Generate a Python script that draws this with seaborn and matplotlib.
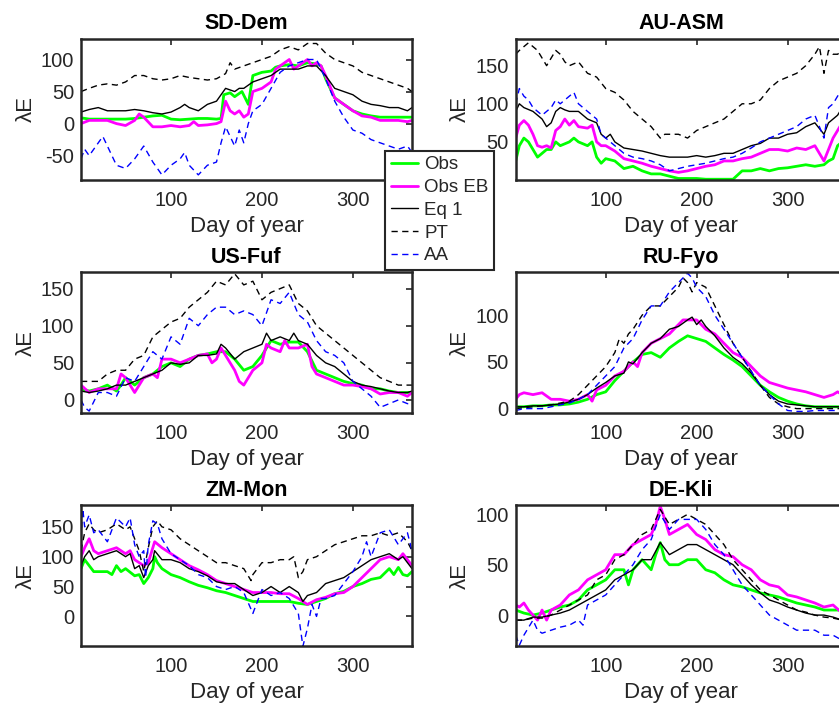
import matplotlib
matplotlib.use("Agg")
import matplotlib.pyplot as plt
import seaborn as sns
import pandas as pd

# ---------------- data: (day of year, lambda E) ----------------
titles = ["SD-Dem", "AU-ASM", "US-Fuf", "RU-Fyo", "ZM-Mon", "DE-Kli"]
series_names = ["Obs", "Obs EB", "Eq 1", "PT", "AA"]

SD_OBS = [(1,9),(10,7),(20,7),(30,7),(40,7),(50,7),(60,8),(70,10),(80,12),(90,13),(100,7),(110,6),(120,7),(130,8),(140,8),(150,7),(155,8),(158,45),(165,48),(170,42),(178,50),(185,30),(190,75),(200,80),(210,82),(215,88),(220,90),(230,92),(240,90),(250,95),(260,93),(265,90),(270,70),(280,40),(290,30),(300,20),(310,15),(320,12),(330,10),(340,10),(350,10),(360,10),(365,10)]
SD_OBSEB = [(1,0),(10,5),(20,5),(30,5),(40,0),(50,-3),(60,5),(65,15),(70,10),(80,-5),(90,-5),(100,-3),(110,-5),(120,-3),(125,3),(130,-3),(140,-2),(150,0),(155,3),(160,35),(165,20),(170,15),(175,20),(180,10),(185,15),(190,50),(200,55),(205,60),(210,65),(215,85),(220,90),(230,100),(235,85),(240,90),(250,100),(255,90),(260,95),(265,90),(270,75),(280,40),(290,30),(300,20),(310,12),(320,10),(330,5),(340,5),(350,5),(360,3),(365,5)]
SD_EQ1 = [(1,18),(10,22),(20,25),(30,20),(40,20),(50,20),(60,22),(70,20),(80,17),(90,15),(100,18),(110,25),(115,30),(120,25),(130,20),(140,30),(150,35),(160,55),(170,50),(175,55),(180,55),(190,65),(200,70),(210,75),(220,85),(230,85),(240,85),(250,90),(260,90),(270,75),(280,55),(290,50),(300,45),(310,35),(320,30),(330,28),(340,25),(350,25),(360,20),(365,25)]
SD_PT = [(1,50),(10,55),(20,60),(30,62),(40,60),(50,65),(60,75),(70,75),(80,70),(90,68),(100,70),(110,75),(120,72),(130,70),(140,68),(150,70),(160,78),(165,95),(170,85),(180,90),(190,95),(200,100),(210,105),(220,115),(230,120),(240,115),(250,125),(260,125),(270,110),(280,100),(290,95),(300,90),(310,80),(320,75),(330,70),(340,65),(350,60),(360,55),(365,50)]
SD_AA = [(1,-55),(5,-40),(10,-50),(20,-30),(25,-20),(30,-35),(40,-65),(50,-70),(60,-55),(70,-35),(80,-60),(90,-80),(100,-65),(110,-55),(115,-45),(120,-65),(130,-80),(140,-65),(150,-60),(155,-30),(160,-5),(165,-20),(170,-35),(175,-10),(180,-30),(185,0),(190,20),(200,30),(210,55),(220,80),(230,90),(240,95),(250,100),(260,100),(270,70),(280,35),(290,10),(300,-10),(310,-15),(320,-25),(330,-30),(340,-35),(350,-40),(360,-35),(365,-45)]

AU_OBS = [(1,25),(5,45),(10,55),(15,50),(20,40),(25,30),(30,35),(35,40),(40,40),(45,50),(50,45),(60,50),(65,55),(70,50),(80,45),(85,50),(90,30),(95,22),(100,28),(110,25),(120,15),(130,18),(140,12),(150,8),(160,8),(170,5),(180,2),(190,2),(200,2),(210,1),(220,1),(230,1),(240,1),(250,12),(260,12),(270,15),(280,12),(290,15),(300,16),(310,18),(320,20),(330,18),(340,20),(345,25),(350,28),(355,45),(360,50),(365,45)]
AU_OBSEB = [(1,55),(5,72),(10,78),(15,72),(20,60),(25,45),(30,43),(35,45),(40,42),(45,65),(50,70),(55,80),(60,72),(65,78),(70,70),(80,68),(85,72),(90,50),(95,45),(100,45),(110,38),(120,28),(130,25),(140,22),(150,18),(160,15),(170,12),(180,10),(190,12),(200,15),(210,18),(220,20),(230,25),(240,25),(250,28),(260,30),(270,35),(280,40),(290,40),(300,38),(310,42),(320,40),(330,45),(340,25),(345,40),(350,55),(355,65),(360,75),(365,78)]
AU_EQ1 = [(1,90),(5,100),(10,95),(20,90),(30,80),(35,70),(40,75),(45,90),(50,95),(55,92),(60,90),(70,90),(80,80),(90,75),(95,60),(100,55),(105,60),(110,50),(120,42),(130,40),(140,38),(150,35),(160,32),(170,30),(180,30),(190,30),(200,32),(210,30),(220,32),(230,35),(240,35),(250,40),(260,45),(270,48),(280,55),(290,55),(300,60),(310,62),(320,70),(330,75),(340,60),(345,75),(350,80),(355,85),(360,95),(365,95)]
AU_PT = [(1,165),(5,170),(10,175),(15,180),(20,175),(25,170),(30,160),(35,150),(40,160),(45,170),(50,165),(55,155),(60,150),(70,155),(80,140),(90,135),(100,120),(110,115),(120,105),(130,90),(140,80),(150,70),(160,55),(165,60),(170,60),(180,60),(190,55),(200,65),(210,70),(220,75),(230,80),(240,90),(250,100),(260,100),(270,105),(280,120),(290,130),(300,135),(310,140),(320,150),(330,165),(335,175),(340,140),(345,170),(350,165),(355,165),(360,170),(365,165)]
AU_AA = [(1,100),(5,120),(10,110),(15,105),(20,95),(30,85),(40,95),(45,105),(50,100),(60,110),(65,115),(70,100),(80,90),(90,80),(95,60),(100,55),(110,45),(120,35),(130,30),(140,28),(150,25),(160,20),(170,12),(180,15),(190,18),(200,20),(210,22),(220,25),(230,28),(240,30),(250,35),(260,42),(270,50),(280,55),(290,60),(300,65),(310,70),(320,80),(330,85),(340,55),(345,95),(350,100),(355,110),(360,120),(365,120)]

US_OBS = [(1,15),(10,12),(20,15),(30,20),(40,12),(45,20),(50,30),(60,20),(70,30),(80,35),(90,45),(100,50),(110,45),(120,55),(130,60),(140,62),(150,65),(160,65),(170,55),(180,40),(190,45),(200,60),(210,80),(220,75),(230,78),(240,78),(250,65),(260,40),(270,35),(280,30),(290,25),(300,22),(310,20),(320,15),(330,15),(340,12),(350,10),(360,10),(365,10)]
US_OBSEB = [(1,20),(10,10),(20,15),(30,15),(40,15),(45,35),(50,30),(55,20),(60,10),(70,30),(80,35),(85,30),(90,55),(100,55),(110,50),(120,55),(130,60),(140,62),(145,50),(150,55),(155,70),(160,60),(170,40),(175,25),(180,20),(190,40),(200,50),(205,75),(210,70),(220,65),(225,80),(230,70),(240,70),(250,75),(255,45),(260,35),(270,30),(280,25),(290,20),(300,20),(310,18),(320,15),(330,8),(340,10),(350,10),(360,5),(365,10)]
US_EQ1 = [(1,12),(10,10),(20,12),(30,15),(40,20),(50,20),(60,25),(70,30),(80,35),(90,40),(100,50),(110,48),(120,50),(130,60),(140,60),(150,62),(155,75),(160,70),(170,55),(180,65),(190,70),(200,75),(205,90),(210,80),(220,85),(230,80),(235,90),(240,80),(250,75),(260,60),(270,50),(280,45),(290,35),(300,25),(310,20),(320,18),(330,15),(340,12),(350,10),(360,10),(365,12)]
US_PT = [(1,25),(10,25),(20,25),(30,35),(40,40),(50,40),(60,55),(70,60),(80,85),(90,95),(100,105),(110,110),(120,125),(130,135),(140,145),(150,160),(160,155),(170,170),(180,155),(190,160),(200,135),(210,145),(220,150),(230,155),(240,130),(250,120),(260,100),(270,90),(280,80),(290,70),(300,60),(310,50),(320,40),(330,30),(340,25),(350,20),(360,20),(365,20)]
US_AA = [(1,0),(5,-10),(10,-15),(20,10),(30,10),(40,5),(50,30),(60,25),(70,45),(80,65),(90,55),(100,85),(110,75),(120,110),(130,100),(140,115),(150,125),(160,125),(170,115),(180,120),(190,115),(200,100),(210,135),(220,130),(230,145),(240,115),(250,105),(260,80),(270,65),(280,60),(290,50),(300,25),(310,15),(320,5),(330,-10),(340,-5),(350,0),(360,-5),(365,-5)]

RU_OBS = [(1,2),(10,2),(20,3),(30,3),(40,4),(50,4),(60,5),(70,7),(80,10),(90,15),(100,18),(110,30),(120,40),(130,50),(140,58),(150,60),(160,55),(170,65),(180,72),(190,78),(200,75),(210,72),(220,65),(230,58),(240,52),(250,45),(260,35),(270,25),(280,18),(290,12),(300,8),(310,5),(320,3),(330,2),(340,2),(350,2),(360,2),(365,2)]
RU_OBSEB = [(1,10),(5,15),(10,17),(20,15),(30,17),(40,10),(50,10),(60,8),(70,10),(80,15),(85,8),(90,20),(100,25),(110,35),(120,40),(130,50),(135,45),(140,60),(150,70),(160,75),(170,80),(180,90),(185,95),(190,95),(200,95),(210,85),(220,80),(230,70),(240,60),(250,55),(260,45),(270,35),(280,28),(290,25),(300,22),(310,20),(320,18),(330,15),(340,12),(350,15),(355,18),(360,15),(365,15)]
RU_EQ1 = [(1,2),(10,2),(20,3),(30,3),(40,4),(50,5),(60,7),(70,10),(80,15),(90,22),(100,28),(110,35),(120,38),(125,50),(130,48),(140,60),(150,70),(160,75),(170,85),(180,88),(190,95),(195,98),(200,90),(205,95),(210,88),(220,78),(230,65),(240,55),(250,48),(260,38),(270,25),(280,15),(290,8),(300,5),(310,4),(320,3),(330,2),(340,2),(350,2),(360,2),(365,2)]
RU_PT = [(1,0),(10,1),(20,2),(30,3),(40,4),(50,6),(60,8),(70,15),(80,25),(90,35),(100,45),(110,60),(115,75),(120,70),(125,80),(130,85),(140,100),(150,110),(160,110),(170,120),(180,130),(185,140),(190,135),(195,125),(200,135),(210,130),(220,110),(230,90),(240,70),(250,55),(260,40),(270,25),(280,12),(290,5),(300,2),(310,0),(320,0),(330,0),(340,0),(350,0),(360,0),(365,0)]
RU_AA = [(1,-2),(10,0),(20,0),(30,0),(40,2),(50,4),(60,6),(70,10),(80,15),(90,25),(100,35),(110,45),(120,65),(130,75),(140,95),(150,110),(160,110),(170,125),(180,135),(190,145),(195,140),(200,130),(210,120),(220,100),(230,85),(240,70),(250,55),(260,40),(270,25),(280,15),(290,5),(300,-2),(310,-3),(320,-3),(330,-2),(340,-2),(350,-2),(360,-2),(365,-2)]

ZM_OBS = [(1,80),(5,95),(10,85),(15,75),(20,75),(30,75),(35,70),(40,85),(45,75),(50,80),(60,68),(65,70),(70,55),(75,65),(80,80),(82,100),(85,90),(90,80),(100,70),(110,65),(120,58),(130,52),(140,48),(150,43),(160,40),(170,35),(180,30),(190,25),(200,25),(210,25),(220,25),(230,25),(240,22),(250,20),(260,25),(270,30),(280,38),(290,42),(300,50),(310,55),(320,62),(330,65),(340,80),(345,70),(350,82),(355,70),(360,68),(365,75)]
ZM_OBSEB = [(1,100),(5,115),(10,130),(15,110),(20,105),(30,110),(40,115),(50,105),(55,110),(60,95),(70,85),(75,90),(80,115),(82,125),(90,115),(100,105),(110,95),(120,85),(130,78),(140,70),(150,60),(160,55),(170,50),(180,45),(190,40),(200,40),(210,40),(220,38),(230,38),(240,30),(250,20),(260,28),(270,32),(280,38),(290,40),(300,50),(310,65),(320,80),(330,95),(340,100),(350,95),(355,105),(360,95),(365,85)]
ZM_EQ1 = [(1,85),(5,100),(10,110),(15,95),(20,100),(30,105),(40,110),(50,100),(55,105),(60,80),(65,85),(70,65),(75,85),(80,95),(82,110),(90,95),(100,95),(110,90),(120,80),(130,75),(140,68),(150,58),(160,55),(170,55),(180,45),(190,35),(200,40),(210,50),(220,40),(230,50),(240,40),(245,25),(250,35),(260,40),(270,55),(280,60),(290,65),(300,75),(310,85),(320,95),(330,100),(340,105),(350,95),(355,100),(360,90),(365,80)]
ZM_PT = [(1,110),(5,140),(10,155),(15,145),(20,140),(30,145),(40,155),(50,145),(55,150),(60,130),(65,110),(70,75),(75,115),(80,150),(85,160),(90,150),(100,145),(110,130),(120,120),(130,110),(140,100),(150,90),(160,90),(170,85),(180,80),(188,60),(190,70),(200,90),(210,90),(220,95),(230,95),(235,100),(240,65),(245,75),(250,95),(260,100),(270,110),(280,120),(290,125),(300,130),(310,135),(320,135),(330,140),(340,135),(350,140),(360,125),(365,110)]
ZM_AA = [(1,130),(3,180),(5,150),(10,170),(15,140),(20,145),(30,125),(40,165),(50,150),(55,165),(60,120),(65,100),(70,110),(72,65),(75,120),(80,160),(85,155),(90,130),(100,105),(110,95),(120,85),(130,70),(140,65),(150,50),(160,45),(170,50),(180,40),(190,5),(200,45),(210,35),(220,40),(230,30),(240,5),(245,-50),(250,-20),(255,20),(260,0),(265,30),(270,30),(280,35),(290,55),(300,75),(310,100),(315,125),(320,100),(330,140),(340,145),(350,120),(355,130),(360,140),(365,110)]

DE_OBS = [(1,5),(10,2),(20,0),(30,2),(40,5),(50,8),(60,10),(70,15),(80,25),(90,30),(100,35),(110,45),(120,45),(125,30),(130,45),(140,55),(150,45),(155,60),(160,72),(165,55),(170,50),(180,50),(190,55),(200,55),(210,45),(220,42),(230,35),(240,30),(250,28),(260,25),(270,22),(280,20),(290,18),(300,15),(310,12),(320,10),(330,8),(340,5),(350,5),(360,5),(365,5)]
DE_OBSEB = [(1,10),(5,8),(10,12),(15,5),(20,0),(25,-5),(30,5),(35,-5),(40,5),(50,10),(60,20),(70,25),(80,35),(90,40),(100,45),(110,60),(120,60),(130,70),(140,75),(150,80),(155,90),(160,108),(165,95),(170,80),(180,85),(190,90),(200,80),(210,75),(220,65),(230,60),(240,58),(250,50),(260,45),(270,35),(280,30),(290,28),(300,20),(310,18),(320,15),(330,12),(340,8),(350,10),(360,2),(365,5)]
DE_EQ1 = [(1,-5),(10,-5),(20,-2),(30,-2),(40,0),(50,2),(60,5),(70,10),(80,15),(90,20),(100,25),(110,35),(120,40),(130,45),(140,55),(150,55),(160,72),(170,60),(180,65),(190,70),(200,70),(210,65),(220,60),(230,55),(240,50),(250,40),(260,30),(270,22),(280,15),(290,12),(300,8),(310,5),(320,2),(330,0),(340,0),(350,-2),(360,-5),(365,-5)]
DE_PT = [(1,-5),(10,-5),(20,-3),(30,-3),(40,0),(50,5),(60,10),(70,15),(80,20),(90,35),(100,40),(110,55),(120,60),(130,70),(140,80),(150,85),(160,105),(170,90),(180,95),(190,100),(200,95),(210,90),(220,80),(230,70),(240,55),(250,45),(260,35),(270,25),(280,20),(290,15),(300,10),(310,5),(320,3),(330,0),(340,-2),(350,-3),(360,-5),(365,-5)]
DE_AA = [(1,-20),(5,-30),(10,-20),(20,-5),(25,-15),(30,-18),(40,-15),(50,-12),(60,-10),(70,-5),(75,-10),(80,10),(90,15),(100,20),(110,30),(120,40),(130,50),(140,65),(150,75),(160,100),(170,85),(180,95),(190,95),(200,95),(210,85),(220,70),(230,60),(240,45),(250,30),(260,20),(270,10),(280,0),(290,-5),(300,-10),(310,-15),(320,-15),(330,-15),(340,-20),(350,-20),(360,-25),(365,-25)]

panel_series = [
    [SD_OBS, SD_OBSEB, SD_EQ1, SD_PT, SD_AA],
    [AU_OBS, AU_OBSEB, AU_EQ1, AU_PT, AU_AA],
    [US_OBS, US_OBSEB, US_EQ1, US_PT, US_AA],
    [RU_OBS, RU_OBSEB, RU_EQ1, RU_PT, RU_AA],
    [ZM_OBS, ZM_OBSEB, ZM_EQ1, ZM_PT, ZM_AA],
    [DE_OBS, DE_OBSEB, DE_EQ1, DE_PT, DE_AA],
]
ylims = [(-88, 132), (0, 185), (-18, 172), (-5, 146), (-50, 186), (-31, 109)]
yticks = [[-50, 0, 50, 100], [50, 100, 150], [0, 50, 100, 150], [0, 50, 100], [0, 50, 100, 150], [0, 50, 100]]
xticks = [100, 200, 300]

# ---------------- styling ----------------
colors = ["#00ff00", "#ff00ff", "#000000", "#000000", "#0000ff"]
widths = [2.0, 2.0, 1.0, 1.0, 1.0]
styles = ["-", "-", "-", (0, (4.5, 3.2)), (0, (4.5, 3.2))]

sns.set_theme(style="white")
plt.rcParams["font.family"] = ["Liberation Sans", "DejaVu Sans"]
plt.rcParams["axes.unicode_minus"] = False
plt.rcParams["axes.edgecolor"] = "#262626"

W, H = 839, 706
fig = plt.figure(figsize=(W / 100, H / 100), dpi=100)

lefts = [81, 515.7]
tops = [39, 272.3, 505.3]
aw, ah = 331, 141

axes = []
for i in range(6):
    r, c = divmod(i, 2)
    x0 = lefts[c] / W
    y0 = 1 - (tops[r] + ah) / H
    ax = fig.add_axes([x0, y0, aw / W, ah / H])
    axes.append(ax)
    for k, (name, data) in enumerate(zip(series_names, panel_series[i])):
        df = pd.DataFrame(data, columns=["day", "val"])
        sns.lineplot(data=df, x="day", y="val", ax=ax, color=colors[k],
                     linewidth=widths[k], linestyle=styles[k],
                     estimator=None, errorbar=None, sort=False, label=name)
    ax.set_xlim(1, 365)
    ax.set_ylim(*ylims[i])
    ax.set_xticks(xticks)
    ax.set_yticks(yticks[i])
    ax.tick_params(direction="in", length=4, width=1.2, top=True, right=True,
                   labelsize=14.5, colors="#262626")
    ax.tick_params(axis="x", pad=8)
    ax.tick_params(axis="y", pad=5)
    for s in ax.spines.values():
        s.set_linewidth(1.8)
        s.set_color("#262626")
    ax.set_title(titles[i], fontsize=15.5, fontweight="bold", pad=7, color="black")
    ax.set_xlabel("Day of year", fontsize=16, color="#262626", labelpad=4)
    ax.set_ylabel("λE", fontsize=16, color="#262626", labelpad=3)
    ax.get_legend().remove()

handles, labels = axes[0].get_legend_handles_labels()
leg = fig.legend(handles, labels, loc="upper left",
                 bbox_to_anchor=(385 / W, 1 - 150.7 / H), fontsize=13.5,
                 frameon=True, fancybox=False, framealpha=1, edgecolor="#262626",
                 handlelength=1.45, handletextpad=0.35, labelspacing=0.3,
                 borderpad=0.3, borderaxespad=0)
leg.get_frame().set_linewidth(1.5)

fig.savefig("out.png", dpi=100)
